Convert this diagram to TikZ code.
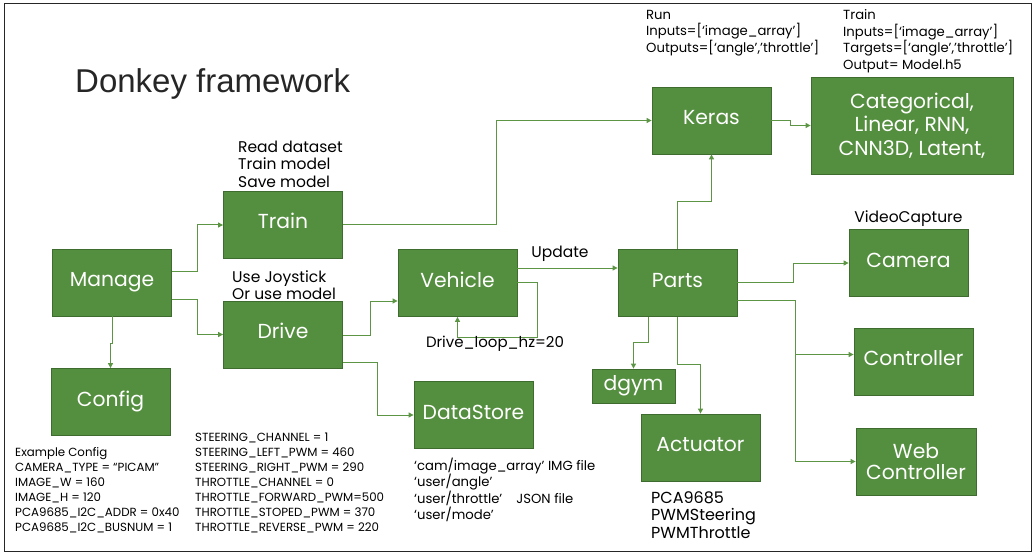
\documentclass[tikz,border=0pt]{standalone}
\usepackage{fontspec}
\setmainfont{Poppins}
\newfontfamily\titlefont{Liberation Sans}
\usetikzlibrary{arrows.meta,positioning}
\definecolor{boxgreen}{RGB}{84,142,63}
\definecolor{boxedge}{RGB}{62,108,46}
\definecolor{linkgreen}{RGB}{92,150,68}
\definecolor{inkgray}{RGB}{38,38,38}

\begin{document}
\begin{tikzpicture}[x=1pt,y=-1pt,
  block/.style={draw=boxedge, line width=0.8pt, fill=boxgreen, text=white, align=center, inner sep=0,
    minimum width=119, minimum height=67, font=\fontsize{20.3}{23.5}\selectfont},
  box/.style={block, text height=12, text depth=4},
  link/.style={draw=linkgreen, line width=1pt, -{Triangle[length=5pt,width=5pt]}},
  note/.style={inner sep=0, anchor=west, align=left, text=black, font=\fontsize{11.8}{15}\selectfont},
  midnote/.style={note, font=\fontsize{13.2}{16.5}\selectfont},
  bignote/.style={note, font=\fontsize{15.5}{17.5}\selectfont}]

  \useasboundingbox (0,0) rectangle (1036,556);
  \draw[draw=inkgray, line width=1pt] (4,4) rectangle (1031,551);

  \node[inner sep=0, anchor=west, text=inkgray, font=\titlefont\fontsize{33}{38}\selectfont] (title) at (75,84) {Donkey framework};

  \node[box] (Manage) at (112,282.5) {Manage};
  \node[box] (Train) at (283,225) {Train};
  \node[box] (Drive) at (283,334.5) {Drive};
  \node[box] (Config) at (110.5,402) {Config};
  \node[box] (Vehicle) at (457.5,283) {Vehicle};
  \node[box] (Parts) at (677.5,283) {Parts};
  \node[box, minimum width=83, minimum height=34] (dgym) at (633.5,386) {dgym};
  \node[box] (Actuator) at (700.5,447.5) {Actuator};
  \node[box] (DataStore) at (473.5,415) {DataStore};
  \node[box] (Keras) at (711.5,120.5) {Keras};
  \node[block, minimum width=202, minimum height=97] (Models) at (912,125.5) {Categorical,\\Linear, RNN,\\CNN3D, Latent,};
  \node[box] (Camera) at (908.5,263) {Camera};
  \node[box] (Controller) at (913.5,361.5) {Controller};
  \node[block, minimum width=120, font=\fontsize{20.3}{21.5}\selectfont] (WebCtrl) at (916,461.5) {Web\\Controller};

  \draw[link] ([yshift=11.5]Manage.east) -- ++(26,0) |- (Train.west);
  \draw[link] ([yshift=-16.5]Manage.east) -- ++(26,0) |- (Drive.west);
  \draw[link] (Manage.south) -- ++(0,27) -| (Config.north);
  \draw[link] ([yshift=-0.5]Drive.east) -- ++(28,0) |- ([yshift=-18]Vehicle.west);
  \draw[link] ([yshift=-27.5]Drive.east) -- ++(35,0) |- (DataStore.west);
  \draw[link] (Train.east) -- ++(154,0) |- (Keras.west);
  \draw[link] ([yshift=15]Vehicle.east) -- ([yshift=15]Parts.west);
  \draw[link] ([yshift=1]Vehicle.east) -- ++(20,0) -- ++(0,55) -| (Vehicle.south);
  \draw[link] (Parts.north) -- ++(0,-48) -| (Keras.south);
  \draw[link] ([xshift=-29.5]Parts.south) -- ++(0,26) -| (dgym.north);
  \draw[link] (Parts.south) -- ++(0,48) -| (Actuator.north);
  \draw[link] ([yshift=1]Parts.east) -- ++(56,0) |- (Camera.west);
  \draw[link] ([yshift=-17]Parts.east) -- ++(58,0) |- ([yshift=7]Controller.west);
  \draw[link] ([yshift=-17]Parts.east) -- ++(58,0) |- (WebCtrl.west);
  \draw[link] (Keras.east) -- ++(19,0) |- (Models.west);

  \node[bignote, anchor=center] (update) at (560,254) {Update};
  \node[bignote, anchor=center, font=\fontsize{15}{17.5}\selectfont] (loop) at (495,344) {Drive\_loop\_hz=20};
  \node[bignote, anchor=south, inner sep=2pt] (capture) [above=0pt of Camera] {VideoCapture};
  \node[bignote] (trainnote) at (238,164) {Read dataset\\Train model\\Save model};
  \node[bignote] (drivenote) at (232,285) {Use Joystick\\Or use model};
  \node[bignote, font=\fontsize{16}{17.5}\selectfont] (actnote) at (651,515) {PCA9685\\PWMSteering\\PWMThrottle};
  \node[midnote] (runnote) at (646,33) {Run\\Inputs=[‘image\_array’]\\Outputs=[‘angle’,’throttle’]};
  \node[midnote] (fitnote) at (843,41) {Train\\Inputs=[‘image\_array’]\\Targets=[‘angle’,’throttle’]\\Output= Model.h5};
  \node[midnote] (storenote) at (414,490) {‘cam/image\_array’ IMG file\\‘user/angle’\\‘user/throttle’\hspace{14pt}JSON file\\‘user/mode’};
  \node[note] (confnote) at (15,490) {Example Config\\CAMERA\_TYPE = “PICAM”\\IMAGE\_W = 160\\IMAGE\_H = 120\\PCA9685\_I2C\_ADDR = 0x40\\PCA9685\_I2C\_BUSNUM = 1};
  \node[note] (pwmnote) at (195,483) {STEERING\_CHANNEL = 1\\STEERING\_LEFT\_PWM = 460\\STEERING\_RIGHT\_PWM = 290\\THROTTLE\_CHANNEL = 0\\THROTTLE\_FORWARD\_PWM=500\\THROTTLE\_STOPED\_PWM = 370\\THROTTLE\_REVERSE\_PWM = 220};
\end{tikzpicture}
\end{document}
